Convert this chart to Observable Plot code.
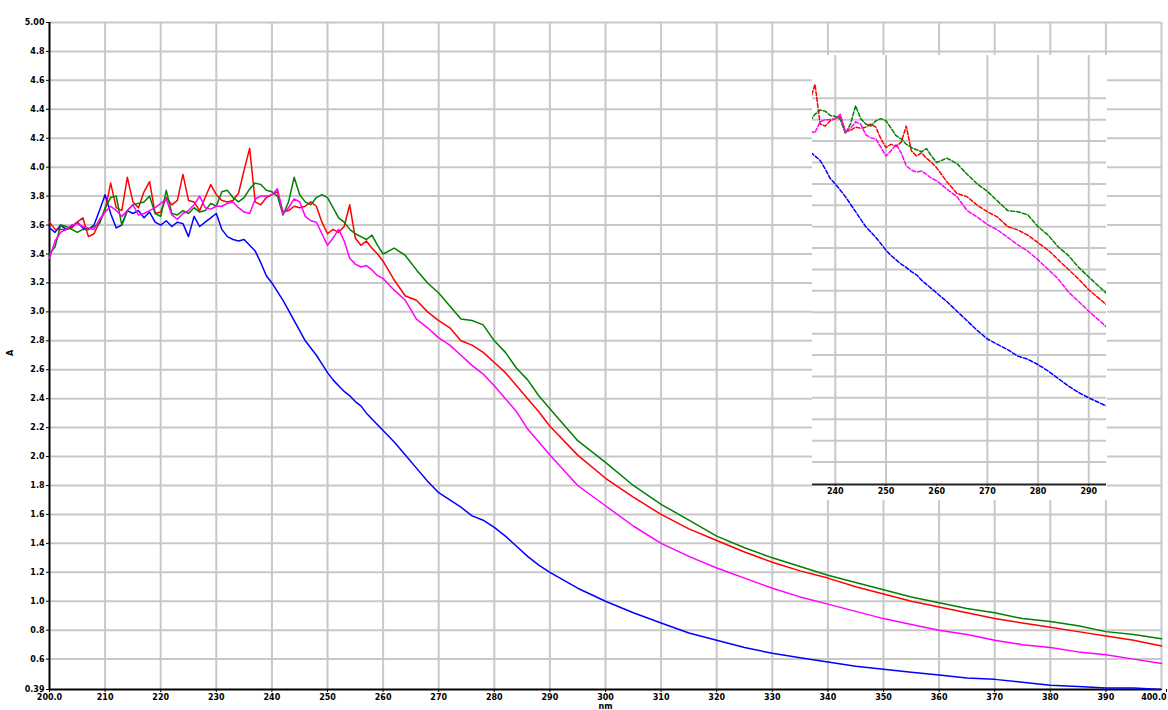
<!DOCTYPE html>
<html>
<head>
<meta charset="utf-8">
<script src="https://cdn.jsdelivr.net/npm/d3@7"></script>
<script src="https://cdn.jsdelivr.net/npm/@observablehq/plot@0.6"></script>
<style>
  body { margin: 0; background: #fff; }
  #wrap { position: relative; width: 1168px; height: 710px; overflow: hidden; }
  #inset { position: absolute; left: 812px; top: 55px; }
</style>
</head>
<body>
<div id="wrap"><div id="main"></div><div id="inset"></div></div>
<script>
// ---- data ----
const wavelengths = [
  200,201,202,203,204,205,206,207,208,209,
  210,211,212,213,214,215,216,217,218,219,
  220,221,222,223,224,225,226,227,228,229,
  230,231,232,233,234,235,236,237,238,239,
  240,241,242,243,244,245,246,247,248,249,
  250,251,252,253,254,255,256,257,258,259,
  260,262,264,266,268,270,272,274,276,278,
  280,282,284,286,288,290,295,300,305,310,
  315,320,325,330,335,340,345,350,355,360,
  365,370,375,380,385,390,395,400
];

const blueValues = [
  3.58,3.55,3.60,3.57,3.59,3.62,3.58,3.57,3.60,3.70,
  3.81,3.68,3.58,3.60,3.70,3.68,3.70,3.65,3.69,3.62,
  3.60,3.63,3.59,3.62,3.61,3.52,3.66,3.59,3.62,3.65,
  3.68,3.57,3.52,3.50,3.49,3.50,3.46,3.42,3.34,3.25,
  3.20,3.14,3.08,3.01,2.94,2.87,2.80,2.75,2.70,2.64,
  2.58,2.53,2.49,2.45,2.42,2.38,2.35,2.30,2.26,2.22,
  2.18,2.10,2.01,1.92,1.83,1.75,1.70,1.65,1.59,1.56,
  1.51,1.45,1.38,1.31,1.25,1.20,1.09,1.00,0.92,0.85,
  0.78,0.73,0.68,0.64,0.61,0.58,0.55,0.53,0.51,0.49,
  0.47,0.46,0.44,0.42,0.41,0.40,0.40,0.39
];

const redValues = [
  3.62,3.57,3.57,3.57,3.58,3.62,3.65,3.52,3.54,3.62,
  3.70,3.89,3.72,3.70,3.93,3.76,3.72,3.83,3.90,3.68,
  3.69,3.79,3.74,3.77,3.95,3.77,3.76,3.70,3.79,3.88,
  3.81,3.77,3.76,3.77,3.82,3.98,4.13,3.76,3.74,3.79,
  3.81,3.83,3.69,3.70,3.73,3.72,3.73,3.76,3.73,3.62,
  3.54,3.57,3.55,3.59,3.74,3.51,3.46,3.49,3.44,3.40,
  3.35,3.22,3.11,3.08,3.00,2.94,2.89,2.80,2.77,2.72,
  2.65,2.58,2.49,2.40,2.31,2.21,2.01,1.85,1.72,1.60,
  1.50,1.42,1.34,1.27,1.21,1.16,1.10,1.05,1.00,0.96,
  0.92,0.88,0.85,0.82,0.79,0.76,0.73,0.69
];

const greenValues = [
  3.40,3.45,3.60,3.59,3.57,3.55,3.57,3.57,3.59,3.61,
  3.72,3.79,3.80,3.60,3.70,3.74,3.75,3.76,3.80,3.68,
  3.66,3.84,3.68,3.67,3.70,3.68,3.72,3.69,3.70,3.75,
  3.73,3.83,3.84,3.79,3.76,3.79,3.85,3.89,3.88,3.84,
  3.83,3.80,3.67,3.76,3.93,3.81,3.76,3.74,3.79,3.81,
  3.79,3.72,3.65,3.62,3.57,3.54,3.52,3.50,3.53,3.46,
  3.40,3.44,3.39,3.29,3.20,3.13,3.04,2.95,2.94,2.91,
  2.80,2.72,2.61,2.53,2.42,2.33,2.11,1.96,1.80,1.67,
  1.56,1.45,1.37,1.30,1.24,1.18,1.13,1.08,1.03,0.99,
  0.95,0.92,0.88,0.86,0.83,0.79,0.77,0.74
];

const magentaValues = [
  3.37,3.49,3.55,3.57,3.60,3.61,3.59,3.58,3.57,3.64,
  3.69,3.73,3.70,3.66,3.70,3.74,3.67,3.68,3.70,3.72,
  3.75,3.78,3.67,3.64,3.68,3.70,3.74,3.80,3.72,3.71,
  3.73,3.73,3.75,3.76,3.72,3.69,3.68,3.78,3.80,3.80,
  3.81,3.85,3.68,3.72,3.78,3.76,3.66,3.63,3.62,3.54,
  3.46,3.51,3.57,3.49,3.37,3.33,3.31,3.32,3.29,3.25,
  3.23,3.15,3.08,2.95,2.89,2.82,2.77,2.70,2.63,2.57,
  2.49,2.40,2.31,2.19,2.10,2.01,1.80,1.66,1.52,1.40,
  1.31,1.23,1.16,1.09,1.03,0.98,0.93,0.88,0.84,0.80,
  0.77,0.73,0.70,0.68,0.65,0.63,0.60,0.57
];

const seriesNames = ["Blue", "Red", "Green", "Magenta"];
const seriesColors = ["#0000ff", "#ff0000", "#008000", "#ff00ff"];

const xTicks = [200,210,220,230,240,250,260,270,280,290,300,310,320,330,340,350,360,370,380,390,400];
const yTicks = [0.39,0.6,0.8,1.0,1.2,1.4,1.6,1.8,2.0,2.2,2.4,2.6,2.8,3.0,3.2,3.4,3.6,3.8,4.0,4.2,4.4,4.6,4.8,5.0];
const xAxisTitle = "nm";
const yAxisTitle = "A";

const insetXTicks = [240,250,260,270,280,290];
const insetXGrid = [240,250,270,280,290];
const insetYGrid = [0.6,0.8,1.0,1.2,1.4,1.6,1.8,2.0,2.2,2.4,2.6,2.8,3.0,3.2,3.4,3.6,3.8,4.0];

// ---- table ----
const seriesValues = [blueValues, redValues, greenValues, magentaValues];
const rows = [];
seriesNames.forEach((name, s) => {
  wavelengths.forEach((w, i) => rows.push({wavelength: w, value: seriesValues[s][i], series: name}));
});
const insetRows = rows.filter(d => d.wavelength >= 234 && d.wavelength <= 296);

const gridStyle = {stroke: "#c8c8c8", strokeOpacity: 1, strokeWidth: 2};
const fontStyle = {fontSize: "8px", fontWeight: "bold", fontFamily: "'DejaVu Sans', Arial, sans-serif", color: "#000", background: "white"};
const xFmt = d => (d === 200 || d === 400) ? d.toFixed(1) : String(d);

const main = Plot.plot({
  width: 1168,
  height: 710,
  marginLeft: 49,
  marginRight: 7,
  marginTop: 22,
  marginBottom: 21,
  style: fontStyle,
  x: {domain: [200, 400]},
  y: {domain: [0.39, 5.0]},
  color: {domain: seriesNames, range: seriesColors},
  marks: [
    Plot.gridX(xTicks.slice(1), gridStyle),
    Plot.gridY(yTicks.slice(1), gridStyle),
    Plot.axisX(xTicks.slice(0, -1), {tickSize: 3, tickPadding: 2, label: null, tickFormat: xFmt}),
    Plot.axisX(xTicks.slice(-1), {tickSize: 3, tickPadding: 2, label: null, tickFormat: xFmt, textAnchor: "end", dx: 5}),
    Plot.axisY(yTicks, {
      tickSize: 3, tickPadding: 2, label: null,
      tickFormat: d => d === 5 ? "5.00" : (d === 0.39 ? "0.39" : d.toFixed(1))
    }),
    Plot.ruleX([200], {stroke: "black", strokeWidth: 2}),
    Plot.ruleY([0.39], {stroke: "black", strokeWidth: 2}),
    Plot.line(rows, {x: "wavelength", y: "value", z: "series", stroke: "series", strokeWidth: 1.5}),
    Plot.text([xAxisTitle], {frameAnchor: "bottom", dy: 19, fontSize: 8, fontWeight: "bold"}),
    Plot.text([yAxisTitle], {frameAnchor: "left", dx: -39, rotate: -90, fontSize: 8, fontWeight: "bold"})
  ]
});
document.getElementById("main").appendChild(main);

const inset = Plot.plot({
  width: 295,
  height: 445,
  marginLeft: 0,
  marginRight: 1,
  marginTop: 0,
  marginBottom: 16,
  style: fontStyle,
  x: {domain: [235.5, 293.5]},
  y: {domain: [0.39, 4.4], axis: null},
  color: {domain: seriesNames, range: seriesColors},
  marks: [
    Plot.gridX(insetXGrid, gridStyle),
    Plot.gridY(insetYGrid, gridStyle),
    Plot.axisX(insetXTicks, {tickSize: 2, tickPadding: 2, label: null, tickFormat: d => String(d)}),
    Plot.ruleY([0.39], {stroke: "#222", strokeWidth: 2}),
    Plot.line(insetRows, {x: "wavelength", y: "value", z: "series", stroke: "series", strokeWidth: 1.5, strokeDasharray: "4,2", clip: true})
  ]
});
document.getElementById("inset").appendChild(inset);
</script>
</body>
</html>
